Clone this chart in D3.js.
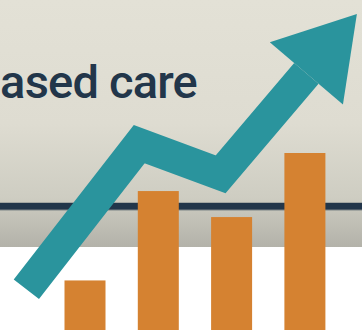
<!DOCTYPE html>
<html lang="en">
<head>
    <meta charset="UTF-8">
    <title>Value-based care</title>
    <style>
        body { margin: 0; }
        svg { display: block; }
    </style>
</head>
<body>
<div id="container"></div>
<script src="https://cdn.jsdelivr.net/npm/d3@7"></script>
<script>
    // bars
    const categories = ['Q1', 'Q2', 'Q3', 'Q4']
    const barValues = [28, 78.5, 63.8, 100]

    // trend arrow, x in category index units
    const trendX = [-0.8, 0.74, 1.85, 3.02]
    const trendY = [23, 105, 88, 145]

    const title = 'Value-based care'

    const width = 362
    const height = 330
    const bandTop = 247
    const ruleY = 206

    const barColor = '#d58231'
    const arrowColor = '#2a949d'
    const inkColor = '#22364a'

    const svg = d3.select('#container').append('svg')
        .attr('width', width)
        .attr('height', height)

    /* background */

    const grad = svg.append('defs').append('linearGradient')
        .attr('id', 'bg')
        .attr('x1', 0).attr('y1', 0).attr('x2', 0).attr('y2', 1)
    grad.append('stop').attr('offset', '0%').attr('stop-color', '#e3e1d6')
    grad.append('stop').attr('offset', '50%').attr('stop-color', '#dedcd1')
    grad.append('stop').attr('offset', '80%').attr('stop-color', '#cecdc2')
    grad.append('stop').attr('offset', '100%').attr('stop-color', '#b3b2a9')

    svg.append('rect')
        .attr('width', width)
        .attr('height', height)
        .attr('fill', '#ffffff')

    svg.append('rect')
        .attr('width', width)
        .attr('height', bandTop)
        .attr('fill', 'url(#bg)')

    svg.append('rect')
        .attr('x', 0).attr('y', ruleY - 3.5)
        .attr('width', width).attr('height', 8)
        .attr('fill', '#7d8386')
    svg.append('rect')
        .attr('x', 0).attr('y', ruleY - 3)
        .attr('width', width).attr('height', 6.5)
        .attr('fill', inkColor)

    svg.append('text')
        .attr('x', 197)
        .attr('y', 98)
        .attr('text-anchor', 'end')
        .attr('font-family', 'Roboto, sans-serif')
        .attr('font-weight', 500)
        .attr('font-size', '47px')
        .attr('letter-spacing', '-0.8px')
        .attr('fill', inkColor)
        .text(title)

    /* scales */

    const step = 73.3
    const barW = 41
    const x = d3.scaleBand()
        .domain(categories)
        .range([64.5, 64.5 + step * 3 + barW])
        .paddingInner(1 - barW / step)
        .paddingOuter(0)

    const xi = d3.scaleLinear()
        .domain([0, 1])
        .range([x(categories[0]) + x.bandwidth() / 2, x(categories[1]) + x.bandwidth() / 2])

    const y = d3.scaleLinear()
        .domain([0, 100])
        .range([height, 153])

    /* bars */

    svg.append('g')
        .selectAll('rect')
        .data(categories)
        .join('rect')
        .attr('x', d => x(d))
        .attr('y', (d, i) => y(barValues[i]))
        .attr('width', x.bandwidth())
        .attr('height', (d, i) => y(0) - y(barValues[i]))
        .attr('fill', barColor)

    /* trend arrow */

    const pts = trendX.map((d, i) => [xi(d), y(trendY[i])])

    svg.append('path')
        .attr('d', d3.line()(pts))
        .attr('fill', 'none')
        .attr('stroke', arrowColor)
        .attr('stroke-width', 32)
        .attr('stroke-linejoin', 'miter')
        .attr('stroke-miterlimit', 10)

    const [ax, ay] = pts[pts.length - 2]
    const [bx, by] = pts[pts.length - 1]
    const len = Math.hypot(bx - ax, by - ay)
    const ux = (bx - ax) / len, uy = (by - ay) / len
    const headLen = 78, headHalf = 48
    svg.append('path')
        .attr('d', d3.line()([[bx + uy * headHalf, by - ux * headHalf],
            [bx + ux * headLen, by + uy * headLen],
            [bx - uy * headHalf, by + ux * headHalf]]) + 'Z')
        .attr('fill', arrowColor)
</script>
</body>
</html>
